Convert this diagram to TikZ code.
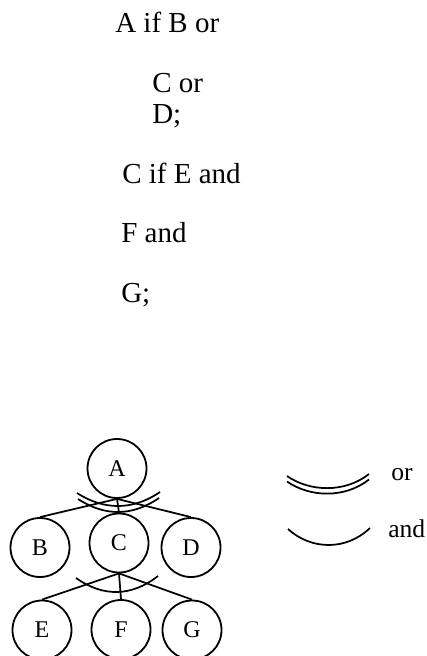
\documentclass[tikz,border=0pt]{standalone}
\usepackage{fontspec}
\setmainfont{Liberation Serif}
\begin{document}
\begin{tikzpicture}[x=0.75pt,y=-0.75pt,
  every node/.style={inner sep=0pt},
  vnode/.style={draw,circle,minimum size=44.25pt,line width=1.35pt,font=\fontsize{18}{18}\selectfont},
  rule/.style={anchor=base west,font=\fontsize{21.75}{21.75}\selectfont},
  legend/.style={anchor=base west,font=\fontsize{19.2}{19.2}\selectfont},
  link/.style={line width=1.3pt},
  arcline/.style={line width=1.3pt}]
\useasboundingbox (0,0) rectangle (427,656);
% rule text
\node[rule] (t1) at (115,33) {A if B or};
\node[rule] (t2) at (152,93) {C or};
\node[rule] (t3) at (152,124) {D;};
\node[rule] (t4) at (122,183) {C if E and};
\node[rule] (t5) at (121,242) {F and};
\node[rule] (t6) at (121,302) {G;};
% tree
\node[vnode] (A) at (117,468.5) {A};
\node[vnode] (B) at (40,547.5) {B};
\node[vnode] (C) at (119,543) {C};
\node[vnode] (D) at (191,547.5) {D};
\node[vnode] (E) at (42,630) {E};
\node[vnode] (F) at (121,629.5) {F};
\node[vnode] (G) at (192,630) {G};
\draw[link] (A.south) -- (B.north);
\draw[link] (A.south) -- (C.north);
\draw[link] (A.south) -- (D.north);
\draw[link] (C.south) -- (E.north);
\draw[link] (C.south) -- (F.north);
\draw[link] (C.south) -- (G.north);
% or arcs under A
\draw[arcline] (77,493) .. controls (104,510.5) and (133,510.5) .. (160,492);
\draw[arcline] (78,499) .. controls (105,516.5) and (132,516.5) .. (159,498);
% and arc under C
\draw[arcline] (76,578) .. controls (103,597) and (131,597) .. (158,576);
% legend
\draw[arcline] (287,476) .. controls (310,492) and (345,493) .. (369,474);
\draw[arcline] (287,481.5) .. controls (310,497.5) and (345,498.5) .. (369,479.5);
\draw[arcline] (288,529) .. controls (311,550) and (346,551) .. (370,528);
\node[legend] (lor) at (391,480) {or};
\node[legend] (land) at (388,537) {and};
\end{tikzpicture}
\end{document}
